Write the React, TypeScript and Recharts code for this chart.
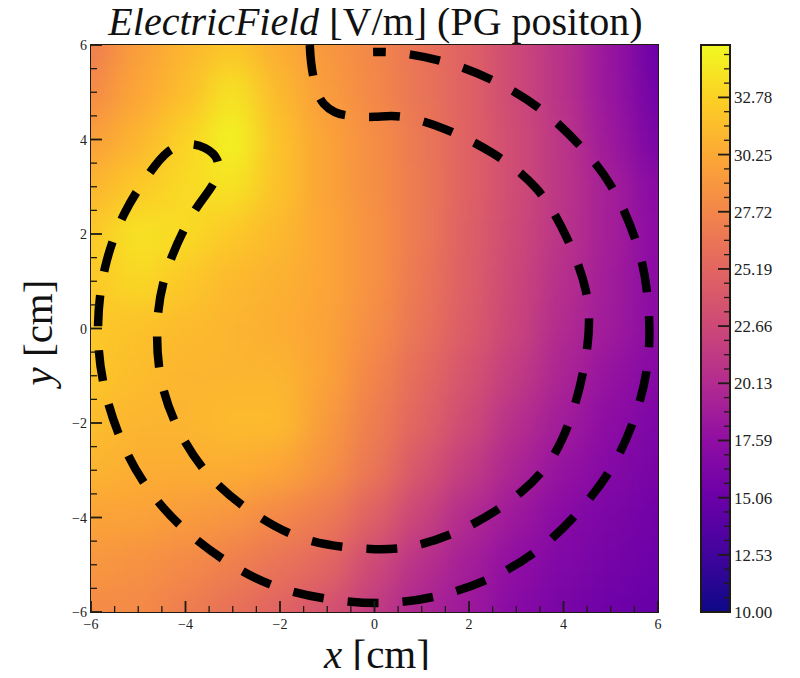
import React from 'react';
import { ScatterChart, Scatter, XAxis, YAxis, ReferenceArea } from 'recharts';

// grid nodes (cm)
const xNodes = [-6, -5, -4, -3, -2, -1, 0, 1, 2, 3, 4, 5, 6];
const yNodes = [6, 5, 4, 3, 2, 1, 0, -1, -2, -3, -4, -5, -6];

// field magnitude [V/m], one row per y node (top to bottom)
const fieldRows = [
  [27.0, 29.5, 31.0, 32.0, 30.5, 29.0, 27.8, 26.2, 24.8, 22.7, 20.7, 18.2, 15.0],
  [28.0, 30.0, 31.5, 33.8, 31.2, 29.3, 27.9, 26.3, 24.8, 22.7, 20.7, 18.2, 15.5],
  [29.5, 31.0, 32.8, 34.8, 31.8, 29.8, 28.3, 26.6, 24.8, 22.9, 21.0, 18.5, 16.0],
  [31.0, 32.2, 33.3, 33.8, 31.8, 29.8, 28.4, 26.7, 24.8, 22.9, 21.0, 19.0, 17.0],
  [32.2, 33.8, 33.3, 32.2, 31.2, 30.0, 28.5, 26.7, 24.6, 22.7, 20.8, 19.0, 17.2],
  [32.2, 33.2, 32.2, 31.3, 30.8, 30.0, 28.5, 26.5, 24.5, 22.5, 20.5, 18.8, 17.2],
  [32.2, 31.8, 31.4, 31.0, 30.5, 29.8, 28.2, 26.2, 24.3, 22.3, 20.0, 18.7, 17.2],
  [32.0, 31.5, 31.0, 31.0, 31.0, 29.8, 27.6, 25.5, 23.6, 21.5, 19.5, 18.0, 16.8],
  [31.5, 31.0, 31.0, 31.4, 31.4, 29.2, 27.0, 25.0, 22.8, 20.5, 18.8, 17.3, 16.3],
  [31.0, 30.5, 30.5, 30.5, 30.0, 28.5, 26.4, 23.8, 21.6, 19.5, 18.0, 16.8, 16.0],
  [29.8, 29.8, 29.3, 28.8, 27.8, 26.8, 24.7, 22.2, 20.0, 18.5, 17.0, 16.2, 15.5],
  [29.0, 28.5, 28.0, 27.2, 26.2, 25.2, 22.7, 20.6, 19.0, 17.5, 16.5, 15.8, 15.2],
  [28.0, 28.0, 27.0, 26.0, 25.0, 23.5, 21.5, 19.5, 18.5, 17.0, 16.0, 15.3, 14.8],
];

// dashed outline (cm), traced in drawing order
const outline = [
  [-1.37, 6.0], [-1.34, 5.62], [-1.24, 5.09], [-1.07, 4.75], [-0.84, 4.58], [-0.52, 4.5],
  [0.01, 4.48], [0.6, 4.48], [1.49, 4.22], [2.5, 3.71], [3.42, 2.97], [4.05, 1.96],
  [4.47, 0.81], [4.51, -0.33], [4.24, -1.62], [3.78, -2.7], [3.08, -3.48], [2.08, -4.14],
  [1.01, -4.56], [0.01, -4.67], [-1.32, -4.5], [-2.4, -4.01], [-3.33, -3.29], [-4.03, -2.36],
  [-4.48, -1.24], [-4.6, -0.05], [-4.43, 1.11], [-3.97, 2.21], [-3.59, 2.8], [-3.35, 3.19],
  [-3.33, 3.57], [-3.59, 3.82], [-3.95, 3.9], [-4.37, 3.74], [-4.79, 3.25], [-5.3, 2.42],
  [-5.7, 1.3], [-5.85, 0.07], [-5.75, -1.09], [-5.43, -2.19], [-4.9, -3.23], [-4.12, -4.16],
  [-3.18, -4.9], [-2.17, -5.43], [-1.01, -5.72], [0.18, -5.81], [1.34, -5.66], [2.46, -5.28],
  [3.48, -4.67], [4.35, -3.84], [5.05, -2.89], [5.53, -1.81], [5.79, -0.65], [5.79, 0.54],
  [5.58, 1.7], [5.07, 2.91], [4.43, 3.78], [3.59, 4.58], [2.57, 5.22], [1.49, 5.64],
  [0.54, 5.83], [-0.03, 5.85],
];

const axisTicks = [
  -6, -5.5, -5, -4.5, -4, -3.5, -3, -2.5, -2, -1.5, -1, -0.5, 0,
  0.5, 1, 1.5, 2, 2.5, 3, 3.5, 4, 4.5, 5, 5.5, 6,
];
const cbLabels = [10.0, 12.53, 15.06, 17.59, 20.13, 22.66, 25.19, 27.72, 30.25, 32.78];
const V_MIN = 10;
const V_MAX = 35.1;

const PLASMA = [
  '#0d0887', '#41049d', '#6a00a8', '#8f0da4', '#b12a90', '#cc4778',
  '#e16462', '#f2844b', '#fca636', '#fcce25', '#f0f921',
];

const FONT = '"Liberation Serif", "DejaVu Serif", serif';
const FRAME = '#1e1a14';
const PLOT_L = 83;
const PLOT_T = 37;
const PLOT_SIZE = 567;
const UNIT = PLOT_SIZE / 12;

const hex = (h: string) => [1, 3, 5].map((i) => parseInt(h.slice(i, i + 2), 16));

const plasma = (v: number) => {
  const t = Math.min(1, Math.max(0, (v - V_MIN) / (V_MAX - V_MIN))) * (PLASMA.length - 1);
  const i = Math.min(PLASMA.length - 2, Math.floor(t));
  const f = t - i;
  const a = hex(PLASMA[i]);
  const b = hex(PLASMA[i + 1]);
  const c = a.map((ch, k) => Math.round(ch + (b[k] - ch) * f));
  return `rgb(${c[0]},${c[1]},${c[2]})`;
};

const heatCells = fieldRows.flatMap((row, i) =>
  row.map((v, j) => ({ x: xNodes[j], y: yNodes[i], v }))
);
const outlinePts = outline.map(([x, y]) => ({ x, y }));

// colorbar ticks: labelled ones plus 3 minor ticks in between
const cbStep = (cbLabels[cbLabels.length - 1] - cbLabels[0]) / (cbLabels.length - 1);
const cbTicks: number[] = [];
for (let i = 0; i < cbLabels.length * 4; i++) {
  const t = V_MIN + (i * cbStep) / 4;
  if (t <= V_MAX) cbTicks.push(t);
}

const fmtAxis = (v: number) => (v < 0 ? `\u2212${Math.abs(v)}` : `${v}`);

const XTick = (props: any) => {
  const { x, y, payload } = props;
  const v = payload.value;
  const major = Number.isInteger(v / 2);
  return (
    <g>
      <line x1={x} x2={x} y1={y} y2={y - (major ? 11 : 6)} stroke={FRAME} strokeWidth={major ? 1.8 : 1.3} />
      {major && (
        <text x={x} y={y + 17} textAnchor="middle" fontSize={14} fontFamily={FONT} fill="#222">
          {fmtAxis(v)}
        </text>
      )}
    </g>
  );
};

const YTick = (props: any) => {
  const { x, y, payload } = props;
  const v = payload.value;
  const major = Number.isInteger(v / 2);
  return (
    <g>
      <line x1={x} x2={x + (major ? 11 : 6)} y1={y} y2={y} stroke={FRAME} strokeWidth={major ? 1.8 : 1.3} />
      {major && (
        <text x={x - 4} y={y + 5} textAnchor="end" fontSize={14} fontFamily={FONT} fill="#222">
          {fmtAxis(v)}
        </text>
      )}
    </g>
  );
};

const CbTick = (props: any) => {
  const { x, y, payload } = props;
  const v = payload.value;
  const idx = cbLabels.findIndex((l) => Math.abs(l - v) < 0.02);
  const major = idx >= 0;
  return (
    <g>
      <line x1={x} x2={x - (major ? 12 : 6)} y1={y} y2={y} stroke={FRAME} strokeWidth={major ? 1.8 : 1.3} />
      {major && (
        <text x={x + 4} y={y + 6} textAnchor="start" fontSize={17} fontFamily={FONT} fill="#222">
          {cbLabels[idx].toFixed(2)}
        </text>
      )}
    </g>
  );
};

const HeatCell = (props: any) => {
  const { cx, cy, payload } = props;
  const s = UNIT + 1;
  return <rect x={cx - s / 2} y={cy - s / 2} width={s} height={s} fill={plasma(payload.v)} />;
};

const Nothing = () => <g />;

export default function App() {
  return (
    <div style={{ position: 'relative', width: 784, height: 662, background: '#fff' }}>
      <style>{'.heat-layer{filter:url(#heatBlur);}'}</style>
      <svg width={0} height={0} style={{ position: 'absolute' }}>
        <defs>
          <filter
            id="heatBlur"
            filterUnits="userSpaceOnUse"
            x={PLOT_L}
            y={PLOT_T}
            width={PLOT_SIZE}
            height={PLOT_SIZE}
            colorInterpolationFilters="sRGB"
          >
            <feGaussianBlur stdDeviation={16} />
            <feComponentTransfer>
              <feFuncA type="linear" slope={0} intercept={1} />
            </feComponentTransfer>
          </filter>
          <linearGradient id="plasmaBar" x1="0" y1="1" x2="0" y2="0">
            {PLASMA.map((c, i) => (
              <stop key={c} offset={i / (PLASMA.length - 1)} stopColor={c} />
            ))}
          </linearGradient>
        </defs>
      </svg>

      <div style={{ position: 'absolute', left: 0, top: 0 }}>
        <ScatterChart
          width={660}
          height={662}
          margin={{ top: PLOT_T, left: PLOT_L - 40, right: 660 - PLOT_L - PLOT_SIZE, bottom: 662 - PLOT_T - PLOT_SIZE - 30 }}
        >
          <XAxis
            type="number"
            dataKey="x"
            domain={[-6, 6]}
            ticks={axisTicks}
            interval={0}
            height={30}
            tickSize={0}
            tickMargin={0}
            axisLine={false}
            tickLine={false}
            tick={(p: any) => <XTick {...p} />}
          />
          <YAxis
            type="number"
            dataKey="y"
            domain={[-6, 6]}
            ticks={axisTicks}
            interval={0}
            width={40}
            tickSize={0}
            tickMargin={0}
            axisLine={false}
            tickLine={false}
            tick={(p: any) => <YTick {...p} />}
          />
          <Scatter data={heatCells} className="heat-layer" shape={(p: any) => <HeatCell {...p} />} isAnimationActive={false} />
          <Scatter
            data={outlinePts}
            fill="none"
            shape={() => <Nothing />}
            line={{ stroke: '#000', strokeWidth: 8.5, strokeDasharray: '31 24', fill: 'none' }}
            lineType="joint"
            lineJointType="natural"
            isAnimationActive={false}
          />
          <ReferenceArea x1={-6} x2={6} y1={-6} y2={6} fill="none" stroke={FRAME} strokeWidth={2} ifOverflow="visible" />
        </ScatterChart>
      </div>

      <div style={{ position: 'absolute', left: 680, top: 0 }}>
        <ScatterChart width={110} height={662} margin={{ top: PLOT_T, left: 13, right: 8, bottom: 662 - PLOT_T - PLOT_SIZE }}>
          <XAxis type="number" dataKey="x" domain={[0, 1]} hide />
          <YAxis
            type="number"
            dataKey="y"
            orientation="right"
            domain={[V_MIN, V_MAX]}
            ticks={cbTicks}
            interval={0}
            width={60}
            tickSize={0}
            tickMargin={0}
            axisLine={false}
            tickLine={false}
            allowDataOverflow
            tick={(p: any) => <CbTick {...p} />}
          />
          <Scatter data={[{ x: 0.5, y: V_MIN }, { x: 0.5, y: V_MAX }]} shape={() => <Nothing />} isAnimationActive={false} />
          <ReferenceArea
            x1={0}
            x2={1}
            y1={V_MIN}
            y2={V_MAX}
            fill="url(#plasmaBar)"
            fillOpacity={1}
            stroke={FRAME}
            strokeWidth={2}
            ifOverflow="visible"
          />
        </ScatterChart>
      </div>

      <svg
        width={784}
        height={670}
        viewBox="0 -8 784 670"
        style={{ position: 'absolute', left: 0, top: -8, pointerEvents: 'none', whiteSpace: 'pre', overflow: 'visible' }}
      >
        <text x={367.5} y={27} textAnchor="middle" fontSize={40} fontFamily={FONT} fill="#111">
          <tspan fontStyle="italic">ElectricField</tspan>
          <tspan>{' [V/m] (PG positon)'}</tspan>
        </text>
        <text x={369} y={660} textAnchor="middle" fontSize={41} fontFamily={FONT} fill="#111">
          <tspan fontStyle="italic">x</tspan>
          <tspan>{' [cm]'}</tspan>
        </text>
        <text
          x={44}
          y={324.5}
          textAnchor="middle"
          fontSize={41}
          fontFamily={FONT}
          fill="#111"
          transform="rotate(-90 44 324.5)"
        >
          <tspan fontStyle="italic">y</tspan>
          <tspan>{' [cm]'}</tspan>
        </text>
      </svg>
    </div>
  );
}
